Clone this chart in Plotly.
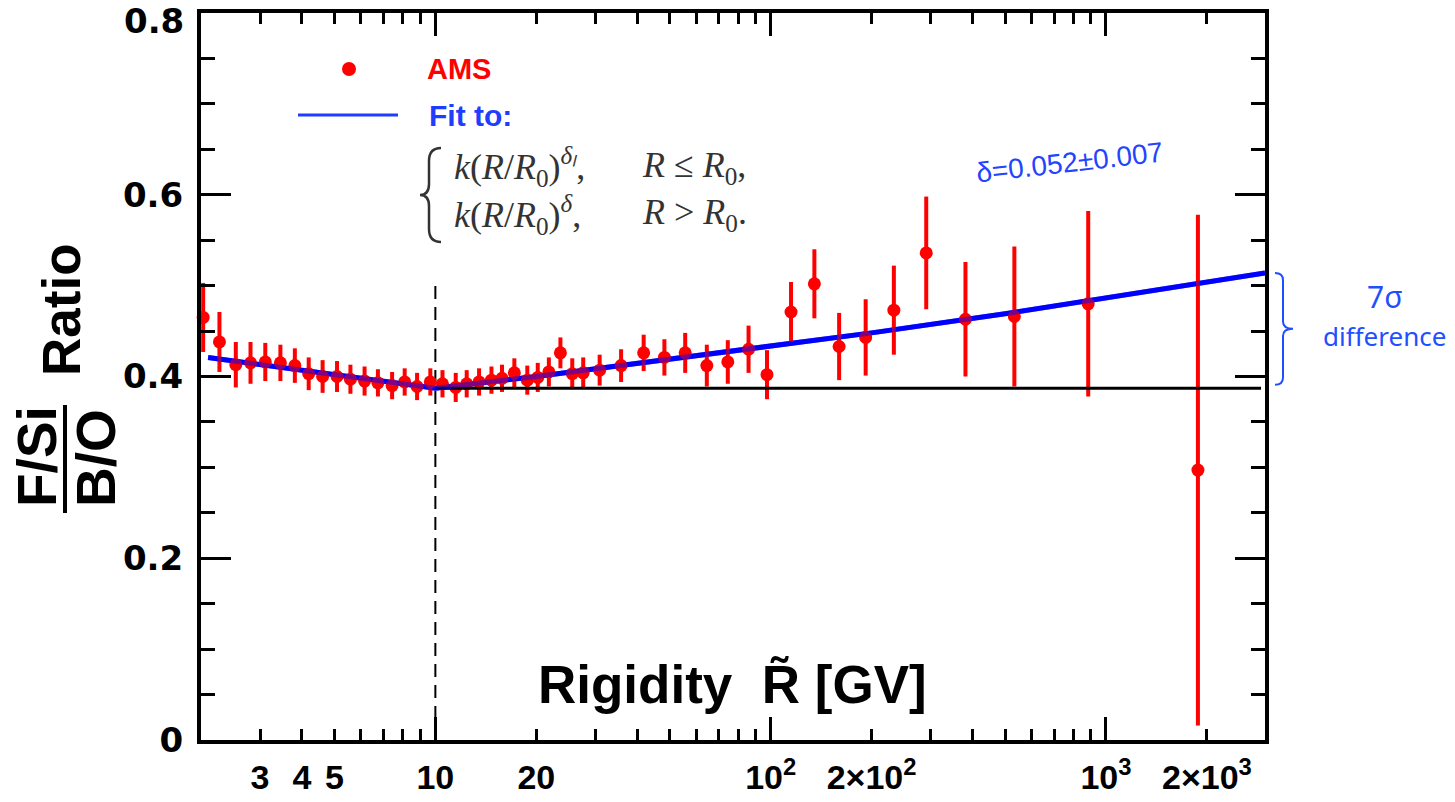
import math
import plotly.graph_objects as go

# ---------------- data ----------------
rigidity = [2.03, 2.27, 2.54, 2.81, 3.11, 3.45, 3.81, 4.19, 4.61, 5.09, 5.58, 6.15,
            6.74, 7.43, 8.10, 8.82, 9.66, 10.5, 11.5, 12.4, 13.5, 14.7, 15.8, 17.2,
            18.8, 20.2, 21.8, 23.6, 25.6, 27.6, 30.9, 35.8, 41.8, 48.2, 55.6, 64.5,
            74.5, 85.9, 97.5, 115, 135, 160, 192, 233, 291, 381, 533, 885, 1880]
ratio = [0.465, 0.438, 0.413, 0.415, 0.416, 0.415, 0.412, 0.403, 0.400, 0.400, 0.397, 0.395,
         0.393, 0.390, 0.394, 0.389, 0.394, 0.392, 0.388, 0.392, 0.394, 0.396, 0.398, 0.404,
         0.396, 0.399, 0.405, 0.426, 0.403, 0.404, 0.407, 0.412, 0.426, 0.421, 0.426, 0.412,
         0.416, 0.430, 0.402, 0.471, 0.502, 0.433, 0.443, 0.473, 0.536, 0.463, 0.466, 0.480, 0.297]
ratio_err = [0.038, 0.033, 0.025, 0.023, 0.021, 0.020, 0.019, 0.018, 0.018, 0.017, 0.016, 0.016,
             0.015, 0.015, 0.015, 0.015, 0.015, 0.015, 0.016, 0.015, 0.015, 0.015, 0.015, 0.016,
             0.016, 0.016, 0.016, 0.017, 0.017, 0.017, 0.017, 0.018, 0.020, 0.020, 0.022, 0.023,
             0.024, 0.026, 0.027, 0.033, 0.038, 0.037, 0.042, 0.049, 0.062, 0.063, 0.077, 0.102, 0.281]

fit_R = [2.1, 3, 5, 10, 20, 50, 100, 200, 500, 1000, 2000, 2980]
fit_val = [0.421, 0.413, 0.402, 0.387, 0.400, 0.419, 0.433, 0.448, 0.469, 0.487, 0.505, 0.514]

R0 = 10
K_LINE = 0.387
hline_R = [R0, 2900]
dash_top = 0.502

x_label_map = {3: "3", 4: "4", 5: "5", 10: "10", 20: "20",
               100: "10<sup>2</sup>", 200: "2×10<sup>2</sup>",
               1000: "10<sup>3</sup>", 2000: "2×10<sup>3</sup>"}
y_label_map = {0: "0", 4: "0.2", 8: "0.4", 12: "0.6"}
y_top_label = "0.8"
y_major = [0.2, 0.4, 0.6]
x_decades = [10, 100, 1000]

# ---------------- geometry helpers (pixel -> paper) ----------------
W, H = 1455, 802
L, R_M, T, B = 201, 190, 13, 62
PW, PH = W - L - R_M, H - T - B


def px(x):
    return (x - L) / PW


def py(y):
    return (H - B - y) / PH


BLUE = "#0000ff"
TXT_BLUE = "#1f3cff"
RED = "#ff0000"

fig = go.Figure()

# opaque fit line underneath
fig.add_trace(go.Scatter(x=fit_R, y=fit_val, mode="lines",
                         line=dict(color=BLUE, width=5), hoverinfo="skip"))
# dashed vertical line at R0
fig.add_trace(go.Scatter(x=[R0, R0], y=[0, dash_top], mode="lines",
                         line=dict(color="black", width=2, dash="13px,8px"), hoverinfo="skip"))
# data
fig.add_trace(go.Scatter(x=rigidity, y=ratio, mode="markers",
                         marker=dict(color=RED, size=13),
                         error_y=dict(type="data", array=ratio_err, color=RED, thickness=4, width=0),
                         cliponaxis=False, name="AMS"))
# horizontal line at k
fig.add_trace(go.Scatter(x=hline_R, y=[K_LINE, K_LINE], mode="lines",
                         line=dict(color="black", width=3), hoverinfo="skip"))
# semi transparent fit line on top (purple overlap)
fig.add_trace(go.Scatter(x=fit_R, y=fit_val, mode="lines",
                         line=dict(color="rgba(0,0,255,0.5)", width=5), hoverinfo="skip"))
# helper trace for overlay axes
fig.add_trace(go.Scatter(x=[None], y=[None], xaxis="x2", yaxis="y2", hoverinfo="skip"))

# ---------------- axes ----------------
x_minor = [m * 10 ** e for e in (0, 1, 2) for m in range(2, 10) if not (e == 0 and m == 2)] + [2000]
x_tickvals = sorted(set(x_minor + x_decades))
x_ticktext = [x_label_map.get(v, " ") for v in x_tickvals]
xr = [math.log10(2), math.log10(2980)]

y_tickvals = [round(i * 0.05, 2) for i in range(17)]
y_ticktext = [y_label_map.get(i, " ") for i in range(17)]

common_line = dict(showline=True, linecolor="black", linewidth=4, mirror="ticks",
                   showgrid=False, zeroline=False, ticks="inside", tickcolor="black", tickwidth=3,
                   automargin=False)

YFONT = dict(family="DejaVu Sans", size=34, color="black", weight="bold")

fig.update_layout(
    width=W, height=H,
    margin=dict(l=L, r=R_M, t=T, b=B),
    plot_bgcolor="white", paper_bgcolor="white",
    showlegend=False,
    xaxis=dict(type="log", range=xr, tickmode="array", tickvals=x_tickvals, ticktext=x_ticktext,
               ticklen=11, ticklabelstandoff=4, tickangle=0, ticklabeloverflow="allow",
               tickfont=dict(family="Liberation Sans", size=34, color="black", weight="bold"),
               **common_line),
    xaxis2=dict(type="log", range=xr, overlaying="x", anchor="y", side="bottom",
                tickmode="array", tickvals=x_decades, ticklen=23, showticklabels=False,
                **common_line),
    yaxis=dict(range=[0, 0.8], tickmode="array", tickvals=y_tickvals, ticktext=y_ticktext,
               ticklen=14, ticklabelstandoff=7, ticklabeloverflow="allow",
               tickfont=YFONT, **common_line),
    yaxis2=dict(range=[0, 0.8], overlaying="y", anchor="x", side="left",
                tickmode="array", tickvals=y_major, ticklen=30, showticklabels=False,
                **common_line),
)

# ---------------- annotations ----------------
ann = []


def add_text(text, x, y, size, color="black", family="Liberation Sans", xanchor="center",
             angle=0, weight="normal"):
    ann.append(dict(text=text, x=px(x), y=py(y), xref="paper", yref="paper",
                    xanchor=xanchor, yanchor="middle", showarrow=False, textangle=angle,
                    font=dict(family=family, size=size, color=color, weight=weight)))


# top y label (placed slightly below the frame so it is not cut)
add_text(y_top_label, 186, 21, 34, "black", "DejaVu Sans", "right", weight="bold")

# legend
add_text("<b>AMS</b>", 425, 69, 29, RED, xanchor="left")
add_text("<b>Fit to:</b>", 427, 115, 30, TXT_BLUE, xanchor="left")
serif = "Liberation Serif"
add_text("<i>k</i>(<i>R</i>/<i>R</i><sub>0</sub>)<sup><i>δₗ</i></sup>,", 452, 167, 36, "#333333", serif, "left")
add_text("<i>R</i> ≤ <i>R</i><sub>0</sub>,", 640, 167, 36, "#333333", serif, "left")
add_text("<i>k</i>(<i>R</i>/<i>R</i><sub>0</sub>)<sup><i>δ</i></sup>,", 452, 215, 36, "#333333", serif, "left")
add_text("<i>R</i> &gt; <i>R</i><sub>0</sub>.", 640, 215, 36, "#333333", serif, "left")

# delta text
add_text("δ=0.052±0.007", 1069, 163, 28, "#2244ff", angle=-6.5)
# 7 sigma
add_text("7σ", 1385, 296, 30, "#1f4fff", family="Noto Sans")
add_text("difference", 1384, 336, 26, "#1f4fff", family="Noto Sans")

# x title
add_text("<b>Rigidity  R̃ [GV]</b>", 732, 684, 53)

# y title
add_text("<b>Ratio</b>", 61, 310, 53, angle=-90)
add_text("<b>F/Si</b>", 37, 457, 55, angle=-90)
add_text("<b>B/O</b>", 96, 458, 55, angle=-90)

fig.update_layout(annotations=ann)

# ---------------- shapes (decorations) ----------------
shapes = []
# legend symbols
shapes.append(dict(type="circle", xref="paper", yref="paper",
                   x0=px(342), x1=px(356), y0=py(76), y1=py(62),
                   fillcolor=RED, line=dict(color=RED, width=0)))
shapes.append(dict(type="line", xref="paper", yref="paper",
                   x0=px(298), x1=px(398), y0=py(115), y1=py(115),
                   line=dict(color=TXT_BLUE, width=3)))
# fraction bar of y title
shapes.append(dict(type="line", xref="paper", yref="paper",
                   x0=px(65), x1=px(65), y0=py(405), y1=py(513),
                   line=dict(color="black", width=4)))


def P(x, y):
    return f"{px(x):.5f},{py(y):.5f}"


# brace of the formula
brace = (f"M{P(441,148)} Q{P(429,148)} {P(429,161)} L{P(429,184)} "
         f"Q{P(429,195)} {P(420,195)} Q{P(429,195)} {P(429,206)} "
         f"L{P(429,229)} Q{P(429,242)} {P(441,242)}")
shapes.append(dict(type="path", xref="paper", yref="paper", path=brace,
                   line=dict(color="#333333", width=2.5)))

# right blue brace spanning from k to fit end (data y coordinates)
yt, yb = fit_val[-1], K_LINE + 0.004
ym = (yt + yb) / 2
d = 0.008
xa, xb, xc = px(1275), px(1283), px(1293)
rb = (f"M{xa:.5f},{yt} Q{xb:.5f},{yt} {xb:.5f},{yt - d} L{xb:.5f},{ym + d} "
      f"Q{xb:.5f},{ym} {xc:.5f},{ym} Q{xb:.5f},{ym} {xb:.5f},{ym - d} "
      f"L{xb:.5f},{yb + d} Q{xb:.5f},{yb} {xa:.5f},{yb}")
shapes.append(dict(type="path", xref="paper", yref="y", path=rb,
                   line=dict(color="#1f4fff", width=2)))

fig.update_layout(shapes=shapes)

fig.write_html("out.html", config={"displayModeBar": False},
               post_script="document.body.style.margin='0px';")
